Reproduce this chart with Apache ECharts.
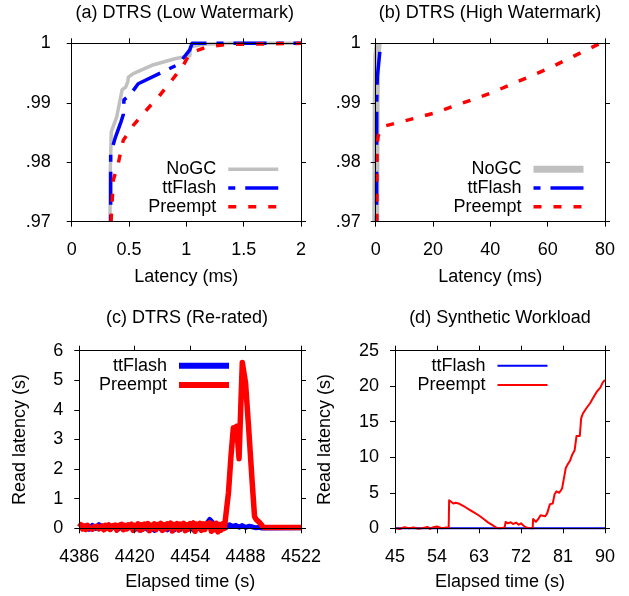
<!DOCTYPE html>
<html><head><meta charset="utf-8">
<script src="https://cdn.jsdelivr.net/npm/echarts@6/dist/echarts.min.js"></script>
<style>html,body{margin:0;padding:0;background:#fff}#c{width:629px;height:596px}</style>
</head><body><div id="c"></div>
<script>
// ---------- titles & labels ----------
const panelTitles = ['(a) DTRS (Low Watermark)', '(b) DTRS (High Watermark)', '(c) DTRS (Re-rated)', '(d) Synthetic Workload'];
const xNameAB = 'Latency (ms)';
const xNameCD = 'Elapsed time (s)';
const yNameCD = 'Read latency (s)';

// ---------- tick labels ----------
const aXTicks = ['0', '0.5', '1', '1.5', '2'];
const abYTicks = ['.97', '.98', '.99', '1'];
const bXTicks = ['0', '20', '40', '60', '80'];
const cXTicks = ['4386', '4420', '4454', '4488', '4522'];
const cYTicks = ['0', '1', '2', '3', '4', '5', '6'];
const dXTicks = ['45', '54', '63', '72', '81', '90'];
const dYTicks = ['0', '5', '10', '15', '20', '25'];

// ---------- (a) CDF, low watermark: [latency ms, percentile] ----------
const aNoGC = [[0.334,0.97],[0.336,0.978],[0.345,0.9851],[0.392,0.9876],[0.44,0.9922],[0.447,0.9925],[0.47,0.9926],[0.49,0.9936],[0.494,0.9943],[0.537,0.9949],[0.70,0.9963],[0.90,0.9974],[1.03,0.9979],[1.035,0.9994],[1.18,0.9999],[1.40,1.0],[2.0,1.0]];
const aTtFlash = [[0.34,0.97],[0.34,0.9815],[0.378,0.984],[0.43,0.9868],[0.45,0.988],[0.456,0.9905],[0.508,0.9913],[0.58,0.9932],[0.93,0.99645],[1.03,0.9989],[1.05,1.0],[2.0,1.0]];
const aPreempt = [[0.343,0.97],[0.363,0.977],[0.406,0.9798],[0.45,0.9837],[0.537,0.9862],[0.625,0.9882],[0.77,0.9913],[0.886,0.9941],[0.974,0.99634],[1.03,0.99831],[1.18,0.9994],[1.35,0.9998],[2.0,1.0]];

// ---------- (b) CDF, high watermark ----------
const bNoGC = [[0.0,0.97],[0.15,0.99],[0.4,0.998],[0.9,1.0]];
const bTtFlash = [[0.3,0.97],[0.35,0.99],[0.57,0.9944],[1.75,1.0]];
const bPreempt = [[0.35,0.97],[0.45,0.983],[0.9,0.9845],[2.4,0.986],[20,0.9882],[40,0.9916],[60,0.9957],[78.3,1.0]];

// ---------- (c) DTRS re-rated: [time s, latency s] ----------
const cTtFlash = [[4386,0.05],[4388,0.02],[4390,0.08],[4392,-0.03],[4394,0.1],[4396,0.0],[4398,0.12],[4400,0.03],[4402,-0.02],[4404,0.04],[4406,0.01],[4408,0.05],[4410,-0.02],[4412,0.06],[4414,0.03],[4416,0.0],[4418,0.08],[4420,-0.05],[4422,0.07],[4424,-0.06],[4426,0.05],[4428,-0.04],[4430,0.08],[4432,-0.07],[4434,0.06],[4436,-0.03],[4438,0.1],[4440,-0.05],[4442,0.09],[4444,-0.06],[4446,0.12],[4448,-0.04],[4450,0.1],[4452,-0.05],[4454,0.08],[4456,-0.06],[4458,0.11],[4460,-0.03],[4462,0.09],[4464,0.15],[4466,0.3],[4468,0.18],[4470,0.05],[4472,-0.04],[4474,0.06],[4476,0.02],[4478,0.12],[4480,0.06],[4482,0.1],[4484,0.04],[4486,0.09],[4488,0.03],[4490,0.07],[4492,0.05],[4494,0.02],[4496,0.03],[4498,0.01],[4522,0.02]];
const cPreempt = [[4386,0.04],[4387,0.12],[4388,-0.02],[4389,0.08],[4390,-0.04],[4391,0.1],[4392,0.02],[4393,0.06],[4394,-0.03],[4395,0.05],[4396,0.0],[4397,0.07],[4398,-0.02],[4399,0.04],[4400,0.08],[4401,-0.05],[4402,0.1],[4403,0.0],[4404,0.12],[4405,-0.04],[4406,0.08],[4407,0.02],[4408,0.11],[4409,-0.06],[4410,0.09],[4411,0.03],[4412,0.13],[4413,-0.05],[4414,0.1],[4415,-0.02],[4416,0.12],[4417,0.04],[4418,0.14],[4419,-0.07],[4420,0.1],[4421,0.02],[4422,0.15],[4423,-0.06],[4424,0.12],[4425,-0.03],[4426,0.14],[4427,0.05],[4428,0.16],[4429,-0.08],[4430,0.11],[4431,0.0],[4432,0.15],[4433,-0.05],[4434,0.13],[4435,0.03],[4436,0.17],[4437,-0.07],[4438,0.12],[4439,-0.02],[4440,0.15],[4441,0.04],[4442,0.18],[4443,-0.09],[4444,0.13],[4445,0.01],[4446,0.16],[4447,-0.06],[4448,0.14],[4449,0.03],[4450,0.17],[4451,-0.08],[4452,0.12],[4453,-0.03],[4454,0.16],[4455,0.05],[4456,0.18],[4457,-0.1],[4458,0.14],[4459,0.02],[4460,0.17],[4461,-0.07],[4462,0.15],[4463,-0.04],[4464,0.16],[4465,0.06],[4466,0.19],[4467,-0.1],[4468,0.14],[4469,-0.05],[4470,0.17],[4471,-0.12],[4472,0.13],[4473,-0.06],[4474,0.15],[4475,0.0],[4476,0.05],[4477.5,1.2],[4479,2.4],[4480.5,3.4],[4481.5,3.2],[4482.5,3.45],[4484,2.35],[4485,4.0],[4486,5.6],[4487,5.55],[4488,4.9],[4490,3.3],[4492,1.6],[4493.5,0.4],[4494.5,0.3],[4495.5,0.35],[4496.5,0.2],[4498,0.1],[4499,0.03],[4522,0.03]];

// ---------- (d) synthetic workload ----------
const dTtFlash = [[45,0.02],[90,0.02]];
const dPreempt = [[45,0.05],[46,-0.1],[47,0.15],[48,0.0],[49,0.1],[50,-0.05],[51,0.05],[52,0.2],[52.5,-0.1],[53,0.1],[54,0.25],[55,0.0],[56,0.1],[56.5,0.05],[56.6,3.95],[57,3.8],[57.5,3.5],[58,3.6],[58.6,3.5],[59,3.4],[60,3.0],[61,2.6],[62,2.2],[63,1.8],[64,1.3],[65,0.8],[66,0.4],[66.8,0.05],[67.5,0.0],[68.5,0.1],[68.7,0.9],[69.2,0.7],[69.8,0.85],[70.3,0.6],[71,0.8],[71.5,0.5],[72,0.7],[72.5,0.4],[73,0.15],[73.5,0.05],[74.5,0.0],[74.6,1.3],[75.2,0.9],[75.8,1.4],[76.2,1.85],[76.6,2.0],[77.2,1.7],[77.6,2.1],[78.2,3.4],[78.8,3.5],[79.2,4.8],[79.6,5.2],[80.2,5.0],[80.8,5.6],[81.2,5.4],[81.6,8.5],[82,9.0],[82.5,9.5],[83,10.4],[83.5,11],[83.9,13],[84.3,12.8],[84.6,13],[84.9,15.5],[85.3,16.2],[86,16.9],[86.8,17.6],[87.5,18.4],[88.2,19.2],[89,19.8],[89.5,20.5],[90,20.9]];

// ---------- styling ----------
const FONT = '"Liberation Sans", Arial, Helvetica, sans-serif';
const TXT = {fontFamily: FONT, fontSize: 18, color: '#000'};
const GRAY = '#c0c0c0', BLUE = '#0000ff', RED = '#ff0000';
const DASH_BLUE = [7, 10, 33, 10];
const DASH_RED = [8, 12];

const grids = [
  {left: 71.7, right: 328, top: 43.3, bottom: 374.3},
  {left: 375.7, right: 24, top: 43.3, bottom: 374.3},
  {left: 79.3, right: 328, top: 350.7, bottom: 67.7},
  {left: 395, right: 24, top: 350.7, bottom: 67.7}
];

function fmt(labels, min, interval) {
  return v => labels[Math.round((v - min) / interval)] ?? '';
}
function xAxes(g, min, max, interval, labels, name, nameGap, margin) {
  const common = {type: 'value', gridIndex: g, min, max, interval, z: 10,
    axisLine: {show: true, onZero: false, lineStyle: {color: '#000', width: 1}},
    axisTick: {show: true, inside: false, length: 5, lineStyle: {color: '#000', width: 1}},
    splitLine: {show: false}};
  return [
    Object.assign({}, common, {position: 'bottom',
      axisLabel: Object.assign({}, TXT, {margin, formatter: fmt(labels, min, interval)}),
      name, nameLocation: 'middle', nameGap, nameTextStyle: TXT}),
    Object.assign({}, common, {position: 'top', axisLabel: {show: false}})
  ];
}
function yAxes(g, min, max, interval, labels, margin, name, nameGap) {
  const common = {type: 'value', gridIndex: g, min, max, interval, z: 10,
    axisLine: {show: true, onZero: false, lineStyle: {color: '#000', width: 1}},
    axisTick: {show: true, inside: false, length: 5, lineStyle: {color: '#000', width: 1}},
    splitLine: {show: false}};
  const left = Object.assign({}, common, {position: 'left',
    axisLabel: Object.assign({}, TXT, {margin, formatter: fmt(labels, min, interval)})});
  if (name) Object.assign(left, {name, nameLocation: 'middle', nameGap, nameRotate: 90, nameTextStyle: TXT});
  return [left, Object.assign({}, common, {position: 'right', axisLabel: {show: false}})];
}

const xAxis = [].concat(
  xAxes(0, 0, 2, 0.5, aXTicks, xNameAB, 46, 19),
  xAxes(1, 0, 80, 20, bXTicks, xNameAB, 46, 19),
  xAxes(2, 4386, 4522, 34, cXTicks, xNameCD, 45, 20),
  xAxes(3, 45, 90, 9, dXTicks, xNameCD, 45, 20)
);
const yAxis = [].concat(
  yAxes(0, 0.97, 1, 0.01, abYTicks, 21),
  yAxes(1, 0.97, 1, 0.01, abYTicks, 15),
  yAxes(2, 0, 6, 1, cYTicks, 16, yNameCD, 50),
  yAxes(3, 0, 25, 5, dYTicks, 16, yNameCD, 61)
);

function line(name, data, axisIdx, color, width, type) {
  return {type: 'line', name, data, xAxisIndex: axisIdx, yAxisIndex: axisIdx,
    symbol: 'none', showSymbol: false, clip: false, animation: false, silent: true,
    lineStyle: {color, width, type: type || 'solid', cap: 'butt', join: 'round'},
    itemStyle: {color}};
}

const series = [
  line('a:NoGC', aNoGC, 0, GRAY, 3.5),
  line('a:ttFlash', aTtFlash, 0, BLUE, 3.5, DASH_BLUE),
  line('a:Preempt', aPreempt, 0, RED, 3.5, DASH_RED),
  line('b:NoGC', bNoGC, 2, GRAY, 7),
  line('b:ttFlash', bTtFlash, 2, BLUE, 3.5, DASH_BLUE),
  line('b:Preempt', bPreempt, 2, RED, 3.5, DASH_RED),
  line('c:ttFlash', cTtFlash, 4, BLUE, 5),
  line('c:Preempt', cPreempt, 4, RED, 5.5),
  line('d:ttFlash', dTtFlash, 6, BLUE, 2),
  line('d:Preempt', dPreempt, 6, RED, 2)
];

function legend(names, widths, right, top, rowH) {
  return {orient: 'vertical', align: 'right', right, top, padding: 0,
    itemWidth: 50, itemHeight: 14, itemGap: 0, selectedMode: false,
    formatter: n => n.split(':')[1],
    textStyle: Object.assign({}, TXT, {lineHeight: rowH, padding: [0, 7, 0, 0]}),
    data: names.map((n, i) => ({name: n, lineStyle: {width: widths[i]}, itemStyle: {opacity: 0}}))};
}

const TT = Object.assign({}, TXT, {fontWeight: 'normal'});
const option = {
  backgroundColor: '#fff',
  animation: false,
  title: [
    {text: panelTitles[0], left: 184.7, top: 4, textAlign: 'center', padding: 0, textStyle: TT},
    {text: panelTitles[1], left: 490, top: 4, textAlign: 'center', padding: 0, textStyle: TT},
    {text: panelTitles[2], left: 187, top: 309, textAlign: 'center', padding: 0, textStyle: TT},
    {text: panelTitles[3], left: 500, top: 309, textAlign: 'center', padding: 0, textStyle: TT}
  ],
  grid: grids,
  xAxis, yAxis, series,
  legend: [
    legend(['a:NoGC', 'a:ttFlash', 'a:Preempt'], [3.5, 3.5, 3.5], 349, 160, 18.7),
    legend(['b:NoGC', 'b:ttFlash', 'b:Preempt'], [7, 3.5, 3.5], 42, 160, 18.7),
    legend(['c:ttFlash', 'c:Preempt'], [6, 6], 397, 356.1, 19.3),
    legend(['d:ttFlash', 'd:Preempt'], [2, 2], 80.5, 356.1, 19.3)
  ]
};

const chart = echarts.init(document.getElementById('c'), null, {renderer: 'canvas'});
chart.setOption(option);
</script>
</body></html>
